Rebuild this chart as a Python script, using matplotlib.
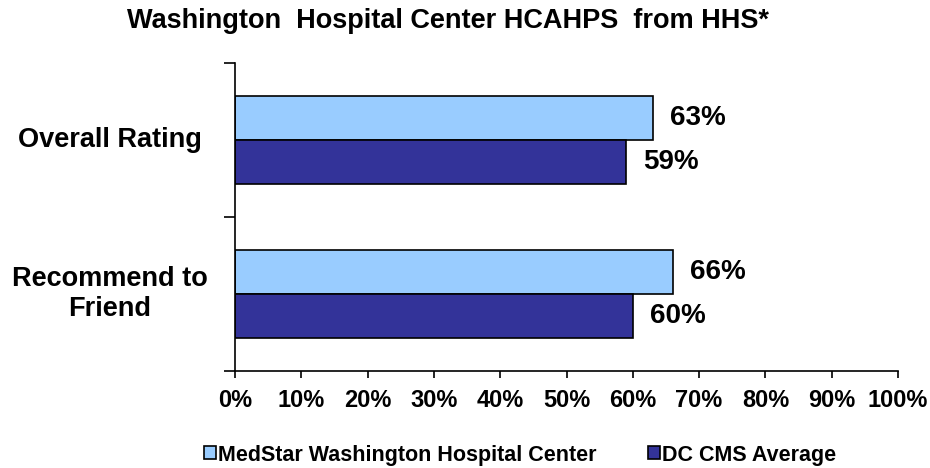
import matplotlib
matplotlib.use("Agg")
import matplotlib.pyplot as plt
import numpy as np

plt.rcParams["font.family"] = ["Liberation Sans", "DejaVu Sans"]
plt.rcParams["font.weight"] = "bold"

# data
categories = ["Overall Rating", "Recommend to\nFriend"]
series_names = ["MedStar Washington Hospital Center", "DC CMS Average"]
medstar = [63, 66]
dc_cms = [59, 60]
tick_vals = list(range(0, 101, 10))

colors = ["#99CCFF", "#333399"]

fig = plt.figure(figsize=(9.3, 4.68), dpi=100)
ax = fig.add_axes([235 / 930, 1 - 371 / 468, 663 / 930, 308 / 468])

y = np.arange(len(categories))
h = 0.286
b1 = ax.barh(y - h / 2, medstar, height=h, color=colors[0], edgecolor="black",
             linewidth=1.2, label=series_names[0])
b2 = ax.barh(y + h / 2, dc_cms, height=h, color=colors[1], edgecolor="black",
             linewidth=1.2, label=series_names[1])

for bars, vals in ((b1, medstar), (b2, dc_cms)):
    for bar, v in zip(bars, vals):
        ax.text(v + 2.6, bar.get_y() + bar.get_height() / 2, f"{v}%",
                va="center", ha="left", fontsize=20, fontweight="bold")

ax.set_xlim(0, 100)
ax.set_ylim(len(categories) - 0.5, -0.5)
ax.set_xticks(tick_vals)
ax.set_xticklabels([f"{t}%" for t in tick_vals], fontsize=17, fontweight="bold")
ax.set_yticks([-0.5, 0.5, 1.5])
ax.set_yticklabels([])
ax.tick_params(axis="y", direction="out", length=8, width=1.2)
ax.tick_params(axis="x", direction="out", length=5, width=1.2, pad=8)

for i, c in enumerate(categories):
    ax.text(-0.1885, i, c, transform=ax.get_yaxis_transform(), ha="center",
            va="center", fontsize=19.5, fontweight="bold", linespacing=1.2)

for s in ("top", "right"):
    ax.spines[s].set_visible(False)
for s in ("left", "bottom"):
    ax.spines[s].set_linewidth(1.2)

fig.text(448 / 930, 1 - 21 / 468, "Washington  Hospital Center HCAHPS  from HHS*",
         ha="center", va="center", fontsize=19.5, fontweight="bold")

fig.legend(handles=[b1, b2], labels=series_names, loc="center",
           bbox_to_anchor=(520 / 930, 1 - 455 / 468), ncol=2, frameon=False,
           handlelength=0.55, handleheight=0.55, handletextpad=0.1,
           columnspacing=2.4, prop={"weight": "bold", "size": 15.5})

fig.savefig("out.png", dpi=100)
